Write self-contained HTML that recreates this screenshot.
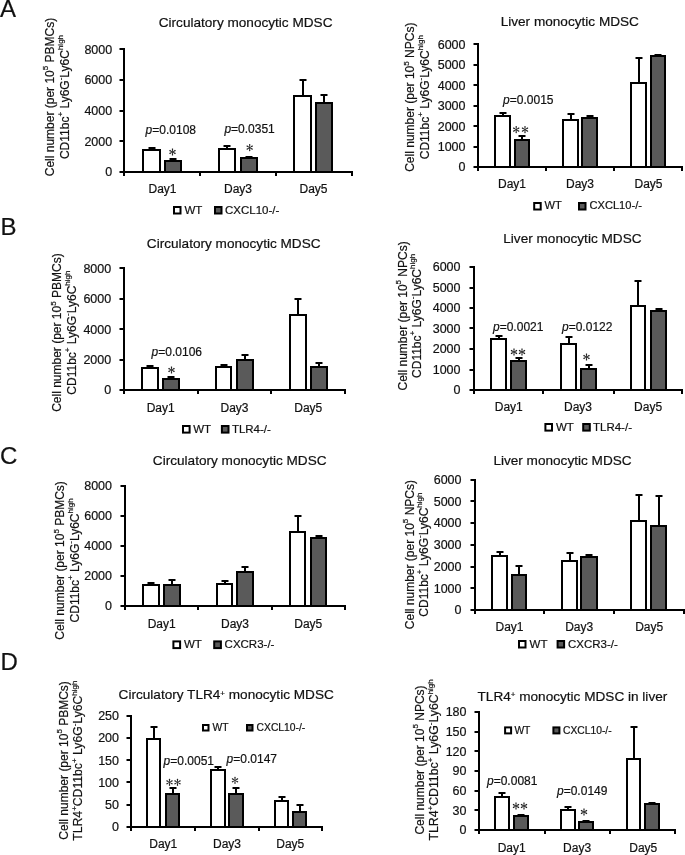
<!DOCTYPE html>
<html><head><meta charset="utf-8"><style>
html,body{margin:0;padding:0;background:#fff;width:685px;height:855px;overflow:hidden}
svg{display:block;filter:grayscale(1)}
text{font-family:"Liberation Sans", sans-serif;fill:#111;stroke:#111;stroke-width:0.2px}
</style></head><body>
<svg width="685" height="855" viewBox="0 0 685 855">
<rect width="685" height="855" fill="#fff"/>
<line x1="152" y1="148" x2="152" y2="150" stroke="#000" stroke-width="2"/>
<line x1="148.5" y1="148" x2="155.5" y2="148" stroke="#000" stroke-width="2"/>
<rect x="143" y="150" width="17" height="22" fill="#fff" stroke="#000" stroke-width="2"/>
<line x1="173" y1="159" x2="173" y2="161" stroke="#000" stroke-width="2"/>
<line x1="169.5" y1="159" x2="176.5" y2="159" stroke="#000" stroke-width="2"/>
<rect x="165" y="161" width="16" height="11" fill="#5a5a5a" stroke="#000" stroke-width="2"/>
<line x1="227" y1="146" x2="227" y2="149" stroke="#000" stroke-width="2"/>
<line x1="223.5" y1="146" x2="230.5" y2="146" stroke="#000" stroke-width="2"/>
<rect x="219" y="149" width="16" height="23" fill="#fff" stroke="#000" stroke-width="2"/>
<line x1="249" y1="157" x2="249" y2="158" stroke="#000" stroke-width="2"/>
<line x1="245.5" y1="157" x2="252.5" y2="157" stroke="#000" stroke-width="2"/>
<rect x="241" y="158" width="16" height="14" fill="#5a5a5a" stroke="#000" stroke-width="2"/>
<line x1="303" y1="80" x2="303" y2="96" stroke="#000" stroke-width="2"/>
<line x1="299.5" y1="80" x2="306.5" y2="80" stroke="#000" stroke-width="2"/>
<rect x="294" y="96" width="17" height="76" fill="#fff" stroke="#000" stroke-width="2"/>
<line x1="324" y1="95" x2="324" y2="103" stroke="#000" stroke-width="2"/>
<line x1="320.5" y1="95" x2="327.5" y2="95" stroke="#000" stroke-width="2"/>
<rect x="316" y="103" width="16" height="69" fill="#5a5a5a" stroke="#000" stroke-width="2"/>
<line x1="124" y1="48" x2="124" y2="173" stroke="#000" stroke-width="2"/>
<line x1="119.5" y1="172" x2="124" y2="172" stroke="#000" stroke-width="2"/>
<text x="112.2" y="176.4" font-size="12.5" text-anchor="end" >0</text>
<line x1="119.5" y1="141" x2="124" y2="141" stroke="#000" stroke-width="2"/>
<text x="112.2" y="145.75" font-size="12.5" text-anchor="end" >2000</text>
<line x1="119.5" y1="111" x2="124" y2="111" stroke="#000" stroke-width="2"/>
<text x="112.2" y="115.1" font-size="12.5" text-anchor="end" >4000</text>
<line x1="119.5" y1="80" x2="124" y2="80" stroke="#000" stroke-width="2"/>
<text x="112.2" y="84.45" font-size="12.5" text-anchor="end" >6000</text>
<line x1="119.5" y1="49" x2="124" y2="49" stroke="#000" stroke-width="2"/>
<text x="112.2" y="53.8" font-size="12.5" text-anchor="end" >8000</text>
<line x1="123" y1="172" x2="353" y2="172" stroke="#000" stroke-width="2"/>
<line x1="124" y1="172" x2="124" y2="176" stroke="#000" stroke-width="2"/>
<line x1="200" y1="172" x2="200" y2="176" stroke="#000" stroke-width="2"/>
<line x1="276" y1="172" x2="276" y2="176" stroke="#000" stroke-width="2"/>
<line x1="352" y1="172" x2="352" y2="176" stroke="#000" stroke-width="2"/>
<text x="162.5" y="193" font-size="12" text-anchor="middle" >Day1</text>
<text x="238" y="193" font-size="12" text-anchor="middle" >Day3</text>
<text x="313.5" y="193" font-size="12" text-anchor="middle" >Day5</text>
<text x="245.6" y="26.5" font-size="13.6" text-anchor="middle">Circulatory monocytic MDSC</text>
<text transform="translate(54,97) rotate(-90)" font-size="12" text-anchor="middle">Cell number (per 10<tspan font-size="8" dy="-5.6">5</tspan><tspan dy="5.6"> PBMCs)</tspan></text>
<text transform="translate(68.5,97) rotate(-90)" font-size="12" text-anchor="middle">CD11bc<tspan font-size="8" dy="-5.6">+</tspan><tspan dy="5.6"> Ly6G</tspan><tspan font-size="8" dy="-5.6">-</tspan><tspan dy="5.6">Ly6C</tspan><tspan font-size="8" dy="-5.6">high</tspan></text>
<text x="145.6" y="134.2" font-size="12"><tspan font-style="italic">p</tspan>=0.0108</text>
<text x="224.4" y="133" font-size="12"><tspan font-style="italic">p</tspan>=0.0351</text>
<path d="M172.7 152L173.18 149.08L173.13 148.82L172.98 148.6L172.76 148.45L172.5 148.4L172.24 148.45L172.02 148.6L171.87 148.82L171.82 149.08L172.3 152ZM172.6 152.17L175.37 151.13L175.57 150.95L175.69 150.72L175.7 150.45L175.62 150.2L175.44 150L175.2 149.88L174.94 149.87L174.69 149.95L172.4 151.83ZM172.6 151.83L170.31 149.95L170.06 149.87L169.8 149.88L169.56 150L169.38 150.2L169.3 150.45L169.31 150.72L169.43 150.95L169.63 151.13L172.4 152.17ZM172.3 152L171.82 154.92L171.87 155.18L172.02 155.4L172.24 155.55L172.5 155.6L172.76 155.55L172.98 155.4L173.13 155.18L173.18 154.92L172.7 152ZM172.4 151.83L169.63 152.87L169.43 153.05L169.31 153.28L169.3 153.55L169.38 153.8L169.56 154L169.8 154.12L170.06 154.13L170.31 154.05L172.6 152.17ZM172.4 152.17L174.69 154.05L174.94 154.13L175.2 154.12L175.44 154L175.62 153.8L175.7 153.55L175.69 153.28L175.57 153.05L175.37 152.87L172.6 151.83Z" fill="#222" fill-rule="nonzero"/>
<path d="M249.9 147.6L250.38 144.68L250.33 144.42L250.18 144.2L249.96 144.05L249.7 144L249.44 144.05L249.22 144.2L249.07 144.42L249.02 144.68L249.5 147.6ZM249.8 147.77L252.57 146.73L252.77 146.55L252.89 146.32L252.9 146.05L252.82 145.8L252.64 145.6L252.4 145.48L252.14 145.47L251.89 145.55L249.6 147.43ZM249.8 147.43L247.51 145.55L247.26 145.47L247 145.48L246.76 145.6L246.58 145.8L246.5 146.05L246.51 146.32L246.63 146.55L246.83 146.73L249.6 147.77ZM249.5 147.6L249.02 150.52L249.07 150.78L249.22 151L249.44 151.15L249.7 151.2L249.96 151.15L250.18 151L250.33 150.78L250.38 150.52L249.9 147.6ZM249.6 147.43L246.83 148.47L246.63 148.65L246.51 148.88L246.5 149.15L246.58 149.4L246.76 149.6L247 149.72L247.26 149.73L247.51 149.65L249.8 147.77ZM249.6 147.77L251.89 149.65L252.14 149.73L252.4 149.72L252.64 149.6L252.82 149.4L252.9 149.15L252.89 148.88L252.77 148.65L252.57 148.47L249.8 147.43Z" fill="#222" fill-rule="nonzero"/>
<rect x="174" y="207" width="6.5" height="6.5" fill="#fff" stroke="#000" stroke-width="2"/>
<text x="184.4" y="213.6" font-size="11.5" text-anchor="start" >WT</text>
<rect x="215" y="207" width="6.5" height="6.5" fill="#5a5a5a" stroke="#000" stroke-width="2"/>
<text x="225" y="213.6" font-size="11.5" text-anchor="start" >CXCL10-/-</text>
<line x1="503" y1="113" x2="503" y2="116" stroke="#000" stroke-width="2"/>
<line x1="499.5" y1="113" x2="506.5" y2="113" stroke="#000" stroke-width="2"/>
<rect x="495" y="116" width="15" height="51" fill="#fff" stroke="#000" stroke-width="2"/>
<line x1="522" y1="136" x2="522" y2="140" stroke="#000" stroke-width="2"/>
<line x1="518.5" y1="136" x2="525.5" y2="136" stroke="#000" stroke-width="2"/>
<rect x="515" y="140" width="14" height="27" fill="#5a5a5a" stroke="#000" stroke-width="2"/>
<line x1="571" y1="114" x2="571" y2="120" stroke="#000" stroke-width="2"/>
<line x1="567.5" y1="114" x2="574.5" y2="114" stroke="#000" stroke-width="2"/>
<rect x="563" y="120" width="15" height="47" fill="#fff" stroke="#000" stroke-width="2"/>
<line x1="590" y1="116" x2="590" y2="118" stroke="#000" stroke-width="2"/>
<line x1="586.5" y1="116" x2="593.5" y2="116" stroke="#000" stroke-width="2"/>
<rect x="582" y="118" width="15" height="49" fill="#5a5a5a" stroke="#000" stroke-width="2"/>
<line x1="639" y1="58" x2="639" y2="83" stroke="#000" stroke-width="2"/>
<line x1="635.5" y1="58" x2="642.5" y2="58" stroke="#000" stroke-width="2"/>
<rect x="631" y="83" width="15" height="84" fill="#fff" stroke="#000" stroke-width="2"/>
<line x1="658" y1="55" x2="658" y2="56" stroke="#000" stroke-width="2"/>
<line x1="654.5" y1="55" x2="661.5" y2="55" stroke="#000" stroke-width="2"/>
<rect x="651" y="56" width="14" height="111" fill="#5a5a5a" stroke="#000" stroke-width="2"/>
<line x1="478" y1="43" x2="478" y2="168" stroke="#000" stroke-width="2"/>
<line x1="473.5" y1="167" x2="478" y2="167" stroke="#000" stroke-width="2"/>
<text x="465.5" y="171.4" font-size="12.5" text-anchor="end" >0</text>
<line x1="473.5" y1="147" x2="478" y2="147" stroke="#000" stroke-width="2"/>
<text x="465.5" y="150.97" font-size="12.5" text-anchor="end" >1000</text>
<line x1="473.5" y1="126" x2="478" y2="126" stroke="#000" stroke-width="2"/>
<text x="465.5" y="130.53" font-size="12.5" text-anchor="end" >2000</text>
<line x1="473.5" y1="106" x2="478" y2="106" stroke="#000" stroke-width="2"/>
<text x="465.5" y="110.1" font-size="12.5" text-anchor="end" >3000</text>
<line x1="473.5" y1="85" x2="478" y2="85" stroke="#000" stroke-width="2"/>
<text x="465.5" y="89.67" font-size="12.5" text-anchor="end" >4000</text>
<line x1="473.5" y1="65" x2="478" y2="65" stroke="#000" stroke-width="2"/>
<text x="465.5" y="69.23" font-size="12.5" text-anchor="end" >5000</text>
<line x1="473.5" y1="44" x2="478" y2="44" stroke="#000" stroke-width="2"/>
<text x="465.5" y="48.8" font-size="12.5" text-anchor="end" >6000</text>
<line x1="477" y1="167" x2="683" y2="167" stroke="#000" stroke-width="2"/>
<line x1="478" y1="167" x2="478" y2="171" stroke="#000" stroke-width="2"/>
<line x1="546" y1="167" x2="546" y2="171" stroke="#000" stroke-width="2"/>
<line x1="614" y1="167" x2="614" y2="171" stroke="#000" stroke-width="2"/>
<line x1="682" y1="167" x2="682" y2="171" stroke="#000" stroke-width="2"/>
<text x="512" y="188" font-size="12" text-anchor="middle" >Day1</text>
<text x="580" y="188" font-size="12" text-anchor="middle" >Day3</text>
<text x="648.5" y="188" font-size="12" text-anchor="middle" >Day5</text>
<text x="569.8" y="26.2" font-size="13.6" text-anchor="middle">Liver monocytic MDSC</text>
<text transform="translate(414.2,97.2) rotate(-90)" font-size="12" text-anchor="middle">Cell number (per 10<tspan font-size="8" dy="-5.6">5</tspan><tspan dy="5.6"> NPCs)</tspan></text>
<text transform="translate(428.8,97.2) rotate(-90)" font-size="12" text-anchor="middle">CD11bc<tspan font-size="8" dy="-5.6">+</tspan><tspan dy="5.6"> Ly6G</tspan><tspan font-size="8" dy="-5.6">-</tspan><tspan dy="5.6">Ly6C</tspan><tspan font-size="8" dy="-5.6">high</tspan></text>
<text x="503.1" y="103.8" font-size="12"><tspan font-style="italic">p</tspan>=0.0015</text>
<path d="M516.4 129.6L516.88 126.68L516.83 126.42L516.68 126.2L516.46 126.05L516.2 126L515.94 126.05L515.72 126.2L515.57 126.42L515.52 126.68L516 129.6ZM516.3 129.77L519.07 128.73L519.27 128.55L519.39 128.32L519.4 128.05L519.32 127.8L519.14 127.6L518.9 127.48L518.64 127.47L518.39 127.55L516.1 129.43ZM516.3 129.43L514.01 127.55L513.76 127.47L513.5 127.48L513.26 127.6L513.08 127.8L513 128.05L513.01 128.32L513.13 128.55L513.33 128.73L516.1 129.77ZM516 129.6L515.52 132.52L515.57 132.78L515.72 133L515.94 133.15L516.2 133.2L516.46 133.15L516.68 133L516.83 132.78L516.88 132.52L516.4 129.6ZM516.1 129.43L513.33 130.47L513.13 130.65L513.01 130.88L513 131.15L513.08 131.4L513.26 131.6L513.5 131.72L513.76 131.73L514.01 131.65L516.3 129.77ZM516.1 129.77L518.39 131.65L518.64 131.73L518.9 131.72L519.14 131.6L519.32 131.4L519.4 131.15L519.39 130.88L519.27 130.65L519.07 130.47L516.3 129.43Z" fill="#222" fill-rule="nonzero"/>
<path d="M525.2 129.6L525.68 126.68L525.63 126.42L525.48 126.2L525.26 126.05L525 126L524.74 126.05L524.52 126.2L524.37 126.42L524.32 126.68L524.8 129.6ZM525.1 129.77L527.87 128.73L528.07 128.55L528.19 128.32L528.2 128.05L528.12 127.8L527.94 127.6L527.7 127.48L527.44 127.47L527.19 127.55L524.9 129.43ZM525.1 129.43L522.81 127.55L522.56 127.47L522.3 127.48L522.06 127.6L521.88 127.8L521.8 128.05L521.81 128.32L521.93 128.55L522.13 128.73L524.9 129.77ZM524.8 129.6L524.32 132.52L524.37 132.78L524.52 133L524.74 133.15L525 133.2L525.26 133.15L525.48 133L525.63 132.78L525.68 132.52L525.2 129.6ZM524.9 129.43L522.13 130.47L521.93 130.65L521.81 130.88L521.8 131.15L521.88 131.4L522.06 131.6L522.3 131.72L522.56 131.73L522.81 131.65L525.1 129.77ZM524.9 129.77L527.19 131.65L527.44 131.73L527.7 131.72L527.94 131.6L528.12 131.4L528.2 131.15L528.19 130.88L528.07 130.65L527.87 130.47L525.1 129.43Z" fill="#222" fill-rule="nonzero"/>
<rect x="534.2" y="203" width="6.5" height="6.5" fill="#fff" stroke="#000" stroke-width="2"/>
<text x="544.6" y="209.4" font-size="11.1" text-anchor="start" >WT</text>
<rect x="579" y="203" width="6.5" height="6.5" fill="#5a5a5a" stroke="#000" stroke-width="2"/>
<text x="589.5" y="209.4" font-size="11.1" text-anchor="start" >CXCL10-/-</text>
<line x1="150" y1="366" x2="150" y2="368" stroke="#000" stroke-width="2"/>
<line x1="146.5" y1="366" x2="153.5" y2="366" stroke="#000" stroke-width="2"/>
<rect x="142" y="368" width="16" height="22" fill="#fff" stroke="#000" stroke-width="2"/>
<line x1="171" y1="377" x2="171" y2="379" stroke="#000" stroke-width="2"/>
<line x1="167.5" y1="377" x2="174.5" y2="377" stroke="#000" stroke-width="2"/>
<rect x="163" y="379" width="16" height="11" fill="#5a5a5a" stroke="#000" stroke-width="2"/>
<line x1="224" y1="365" x2="224" y2="367" stroke="#000" stroke-width="2"/>
<line x1="220.5" y1="365" x2="227.5" y2="365" stroke="#000" stroke-width="2"/>
<rect x="216" y="367" width="15" height="23" fill="#fff" stroke="#000" stroke-width="2"/>
<line x1="245" y1="355" x2="245" y2="360" stroke="#000" stroke-width="2"/>
<line x1="241.5" y1="355" x2="248.5" y2="355" stroke="#000" stroke-width="2"/>
<rect x="237" y="360" width="16" height="30" fill="#5a5a5a" stroke="#000" stroke-width="2"/>
<line x1="298" y1="299" x2="298" y2="315" stroke="#000" stroke-width="2"/>
<line x1="294.5" y1="299" x2="301.5" y2="299" stroke="#000" stroke-width="2"/>
<rect x="290" y="315" width="16" height="75" fill="#fff" stroke="#000" stroke-width="2"/>
<line x1="319" y1="363" x2="319" y2="367" stroke="#000" stroke-width="2"/>
<line x1="315.5" y1="363" x2="322.5" y2="363" stroke="#000" stroke-width="2"/>
<rect x="311" y="367" width="16" height="23" fill="#5a5a5a" stroke="#000" stroke-width="2"/>
<line x1="124" y1="267" x2="124" y2="391" stroke="#000" stroke-width="2"/>
<line x1="119.5" y1="390" x2="124" y2="390" stroke="#000" stroke-width="2"/>
<text x="111.2" y="394.4" font-size="12.5" text-anchor="end" >0</text>
<line x1="119.5" y1="360" x2="124" y2="360" stroke="#000" stroke-width="2"/>
<text x="111.2" y="364" font-size="12.5" text-anchor="end" >2000</text>
<line x1="119.5" y1="329" x2="124" y2="329" stroke="#000" stroke-width="2"/>
<text x="111.2" y="333.6" font-size="12.5" text-anchor="end" >4000</text>
<line x1="119.5" y1="299" x2="124" y2="299" stroke="#000" stroke-width="2"/>
<text x="111.2" y="303.2" font-size="12.5" text-anchor="end" >6000</text>
<line x1="119.5" y1="268" x2="124" y2="268" stroke="#000" stroke-width="2"/>
<text x="111.2" y="272.8" font-size="12.5" text-anchor="end" >8000</text>
<line x1="123" y1="390" x2="346" y2="390" stroke="#000" stroke-width="2"/>
<line x1="124" y1="390" x2="124" y2="394" stroke="#000" stroke-width="2"/>
<line x1="198" y1="390" x2="198" y2="394" stroke="#000" stroke-width="2"/>
<line x1="271" y1="390" x2="271" y2="394" stroke="#000" stroke-width="2"/>
<line x1="345" y1="390" x2="345" y2="394" stroke="#000" stroke-width="2"/>
<text x="160.7" y="411.6" font-size="12" text-anchor="middle" >Day1</text>
<text x="234.5" y="411.6" font-size="12" text-anchor="middle" >Day3</text>
<text x="308.3" y="411.6" font-size="12" text-anchor="middle" >Day5</text>
<text x="233.7" y="247.7" font-size="13.6" text-anchor="middle">Circulatory monocytic MDSC</text>
<text transform="translate(61.3,332.6) rotate(-90)" font-size="12" text-anchor="middle">Cell number (per 10<tspan font-size="8" dy="-5.6">5</tspan><tspan dy="5.6"> PBMCs)</tspan></text>
<text transform="translate(76,332.6) rotate(-90)" font-size="12" text-anchor="middle">CD11bc<tspan font-size="8" dy="-5.6">+</tspan><tspan dy="5.6"> Ly6G</tspan><tspan font-size="8" dy="-5.6">-</tspan><tspan dy="5.6">Ly6C</tspan><tspan font-size="8" dy="-5.6">high</tspan></text>
<text x="151.6" y="355.6" font-size="12"><tspan font-style="italic">p</tspan>=0.0106</text>
<path d="M171.7 370L172.18 367.08L172.13 366.82L171.98 366.6L171.76 366.45L171.5 366.4L171.24 366.45L171.02 366.6L170.87 366.82L170.82 367.08L171.3 370ZM171.6 370.17L174.37 369.13L174.57 368.95L174.69 368.72L174.7 368.45L174.62 368.2L174.44 368L174.2 367.88L173.94 367.87L173.69 367.95L171.4 369.83ZM171.6 369.83L169.31 367.95L169.06 367.87L168.8 367.88L168.56 368L168.38 368.2L168.3 368.45L168.31 368.72L168.43 368.95L168.63 369.13L171.4 370.17ZM171.3 370L170.82 372.92L170.87 373.18L171.02 373.4L171.24 373.55L171.5 373.6L171.76 373.55L171.98 373.4L172.13 373.18L172.18 372.92L171.7 370ZM171.4 369.83L168.63 370.87L168.43 371.05L168.31 371.28L168.3 371.55L168.38 371.8L168.56 372L168.8 372.12L169.06 372.13L169.31 372.05L171.6 370.17ZM171.4 370.17L173.69 372.05L173.94 372.13L174.2 372.12L174.44 372L174.62 371.8L174.7 371.55L174.69 371.28L174.57 371.05L174.37 370.87L171.6 369.83Z" fill="#222" fill-rule="nonzero"/>
<rect x="183" y="426" width="6.6" height="6.6" fill="#fff" stroke="#000" stroke-width="2"/>
<text x="193.2" y="433" font-size="11.5" text-anchor="start" >WT</text>
<rect x="221.9" y="426" width="6.6" height="6.6" fill="#5a5a5a" stroke="#000" stroke-width="2"/>
<text x="231.9" y="433" font-size="11.5" text-anchor="start" >TLR4-/-</text>
<line x1="499" y1="336" x2="499" y2="339" stroke="#000" stroke-width="2"/>
<line x1="495.5" y1="336" x2="502.5" y2="336" stroke="#000" stroke-width="2"/>
<rect x="491" y="339" width="15" height="51" fill="#fff" stroke="#000" stroke-width="2"/>
<line x1="519" y1="358" x2="519" y2="361" stroke="#000" stroke-width="2"/>
<line x1="515.5" y1="358" x2="522.5" y2="358" stroke="#000" stroke-width="2"/>
<rect x="511" y="361" width="15" height="29" fill="#5a5a5a" stroke="#000" stroke-width="2"/>
<line x1="569" y1="337" x2="569" y2="344" stroke="#000" stroke-width="2"/>
<line x1="565.5" y1="337" x2="572.5" y2="337" stroke="#000" stroke-width="2"/>
<rect x="561" y="344" width="15" height="46" fill="#fff" stroke="#000" stroke-width="2"/>
<line x1="589" y1="365" x2="589" y2="369" stroke="#000" stroke-width="2"/>
<line x1="585.5" y1="365" x2="592.5" y2="365" stroke="#000" stroke-width="2"/>
<rect x="581" y="369" width="15" height="21" fill="#5a5a5a" stroke="#000" stroke-width="2"/>
<line x1="638" y1="281" x2="638" y2="306" stroke="#000" stroke-width="2"/>
<line x1="634.5" y1="281" x2="641.5" y2="281" stroke="#000" stroke-width="2"/>
<rect x="631" y="306" width="14" height="84" fill="#fff" stroke="#000" stroke-width="2"/>
<line x1="659" y1="309" x2="659" y2="311" stroke="#000" stroke-width="2"/>
<line x1="655.5" y1="309" x2="662.5" y2="309" stroke="#000" stroke-width="2"/>
<rect x="651" y="311" width="15" height="79" fill="#5a5a5a" stroke="#000" stroke-width="2"/>
<line x1="474" y1="266" x2="474" y2="391" stroke="#000" stroke-width="2"/>
<line x1="469.5" y1="390" x2="474" y2="390" stroke="#000" stroke-width="2"/>
<text x="460.5" y="394.4" font-size="12.5" text-anchor="end" >0</text>
<line x1="469.5" y1="370" x2="474" y2="370" stroke="#000" stroke-width="2"/>
<text x="460.5" y="373.9" font-size="12.5" text-anchor="end" >1000</text>
<line x1="469.5" y1="349" x2="474" y2="349" stroke="#000" stroke-width="2"/>
<text x="460.5" y="353.4" font-size="12.5" text-anchor="end" >2000</text>
<line x1="469.5" y1="328" x2="474" y2="328" stroke="#000" stroke-width="2"/>
<text x="460.5" y="332.9" font-size="12.5" text-anchor="end" >3000</text>
<line x1="469.5" y1="308" x2="474" y2="308" stroke="#000" stroke-width="2"/>
<text x="460.5" y="312.4" font-size="12.5" text-anchor="end" >4000</text>
<line x1="469.5" y1="288" x2="474" y2="288" stroke="#000" stroke-width="2"/>
<text x="460.5" y="291.9" font-size="12.5" text-anchor="end" >5000</text>
<line x1="469.5" y1="267" x2="474" y2="267" stroke="#000" stroke-width="2"/>
<text x="460.5" y="271.4" font-size="12.5" text-anchor="end" >6000</text>
<line x1="473" y1="390" x2="683" y2="390" stroke="#000" stroke-width="2"/>
<line x1="474" y1="390" x2="474" y2="394" stroke="#000" stroke-width="2"/>
<line x1="543" y1="390" x2="543" y2="394" stroke="#000" stroke-width="2"/>
<line x1="614" y1="390" x2="614" y2="394" stroke="#000" stroke-width="2"/>
<line x1="682" y1="390" x2="682" y2="394" stroke="#000" stroke-width="2"/>
<text x="508.8" y="411.3" font-size="12" text-anchor="middle" >Day1</text>
<text x="578" y="411.3" font-size="12" text-anchor="middle" >Day3</text>
<text x="648.1" y="411.3" font-size="12" text-anchor="middle" >Day5</text>
<text x="572.4" y="243.3" font-size="13.6" text-anchor="middle">Liver monocytic MDSC</text>
<text transform="translate(406.5,315.9) rotate(-90)" font-size="12" text-anchor="middle">Cell number (per 10<tspan font-size="8" dy="-5.6">5</tspan><tspan dy="5.6"> NPCs)</tspan></text>
<text transform="translate(420.8,315.9) rotate(-90)" font-size="12" text-anchor="middle">CD11bc<tspan font-size="8" dy="-5.6">+</tspan><tspan dy="5.6"> Ly6G</tspan><tspan font-size="8" dy="-5.6">-</tspan><tspan dy="5.6">Ly6C</tspan><tspan font-size="8" dy="-5.6">high</tspan></text>
<text x="493" y="330.8" font-size="12"><tspan font-style="italic">p</tspan>=0.0021</text>
<text x="562" y="331" font-size="12"><tspan font-style="italic">p</tspan>=0.0122</text>
<path d="M514.2 352L514.68 349.08L514.63 348.82L514.48 348.6L514.26 348.45L514 348.4L513.74 348.45L513.52 348.6L513.37 348.82L513.32 349.08L513.8 352ZM514.1 352.17L516.87 351.13L517.07 350.95L517.19 350.72L517.2 350.45L517.12 350.2L516.94 350L516.7 349.88L516.44 349.87L516.19 349.95L513.9 351.83ZM514.1 351.83L511.81 349.95L511.56 349.87L511.3 349.88L511.06 350L510.88 350.2L510.8 350.45L510.81 350.72L510.93 350.95L511.13 351.13L513.9 352.17ZM513.8 352L513.32 354.92L513.37 355.18L513.52 355.4L513.74 355.55L514 355.6L514.26 355.55L514.48 355.4L514.63 355.18L514.68 354.92L514.2 352ZM513.9 351.83L511.13 352.87L510.93 353.05L510.81 353.28L510.8 353.55L510.88 353.8L511.06 354L511.3 354.12L511.56 354.13L511.81 354.05L514.1 352.17ZM513.9 352.17L516.19 354.05L516.44 354.13L516.7 354.12L516.94 354L517.12 353.8L517.2 353.55L517.19 353.28L517.07 353.05L516.87 352.87L514.1 351.83Z" fill="#222" fill-rule="nonzero"/>
<path d="M522.2 352L522.68 349.08L522.63 348.82L522.48 348.6L522.26 348.45L522 348.4L521.74 348.45L521.52 348.6L521.37 348.82L521.32 349.08L521.8 352ZM522.1 352.17L524.87 351.13L525.07 350.95L525.19 350.72L525.2 350.45L525.12 350.2L524.94 350L524.7 349.88L524.44 349.87L524.19 349.95L521.9 351.83ZM522.1 351.83L519.81 349.95L519.56 349.87L519.3 349.88L519.06 350L518.88 350.2L518.8 350.45L518.81 350.72L518.93 350.95L519.13 351.13L521.9 352.17ZM521.8 352L521.32 354.92L521.37 355.18L521.52 355.4L521.74 355.55L522 355.6L522.26 355.55L522.48 355.4L522.63 355.18L522.68 354.92L522.2 352ZM521.9 351.83L519.13 352.87L518.93 353.05L518.81 353.28L518.8 353.55L518.88 353.8L519.06 354L519.3 354.12L519.56 354.13L519.81 354.05L522.1 352.17ZM521.9 352.17L524.19 354.05L524.44 354.13L524.7 354.12L524.94 354L525.12 353.8L525.2 353.55L525.19 353.28L525.07 353.05L524.87 352.87L522.1 351.83Z" fill="#222" fill-rule="nonzero"/>
<path d="M586.7 357L587.18 354.08L587.13 353.82L586.98 353.6L586.76 353.45L586.5 353.4L586.24 353.45L586.02 353.6L585.87 353.82L585.82 354.08L586.3 357ZM586.6 357.17L589.37 356.13L589.57 355.95L589.69 355.72L589.7 355.45L589.62 355.2L589.44 355L589.2 354.88L588.94 354.87L588.69 354.95L586.4 356.83ZM586.6 356.83L584.31 354.95L584.06 354.87L583.8 354.88L583.56 355L583.38 355.2L583.3 355.45L583.31 355.72L583.43 355.95L583.63 356.13L586.4 357.17ZM586.3 357L585.82 359.92L585.87 360.18L586.02 360.4L586.24 360.55L586.5 360.6L586.76 360.55L586.98 360.4L587.13 360.18L587.18 359.92L586.7 357ZM586.4 356.83L583.63 357.87L583.43 358.05L583.31 358.28L583.3 358.55L583.38 358.8L583.56 359L583.8 359.12L584.06 359.13L584.31 359.05L586.6 357.17ZM586.4 357.17L588.69 359.05L588.94 359.13L589.2 359.12L589.44 359L589.62 358.8L589.7 358.55L589.69 358.28L589.57 358.05L589.37 357.87L586.6 356.83Z" fill="#222" fill-rule="nonzero"/>
<rect x="545.4" y="424" width="6.6" height="6.6" fill="#fff" stroke="#000" stroke-width="2"/>
<text x="556" y="431" font-size="11.5" text-anchor="start" >WT</text>
<rect x="583.2" y="424" width="6.6" height="6.6" fill="#5a5a5a" stroke="#000" stroke-width="2"/>
<text x="593" y="431" font-size="11.5" text-anchor="start" >TLR4-/-</text>
<line x1="151" y1="583" x2="151" y2="585" stroke="#000" stroke-width="2"/>
<line x1="147.5" y1="583" x2="154.5" y2="583" stroke="#000" stroke-width="2"/>
<rect x="143" y="585" width="16" height="21" fill="#fff" stroke="#000" stroke-width="2"/>
<line x1="172" y1="580" x2="172" y2="585" stroke="#000" stroke-width="2"/>
<line x1="168.5" y1="580" x2="175.5" y2="580" stroke="#000" stroke-width="2"/>
<rect x="164" y="585" width="16" height="21" fill="#5a5a5a" stroke="#000" stroke-width="2"/>
<line x1="225" y1="581" x2="225" y2="584" stroke="#000" stroke-width="2"/>
<line x1="221.5" y1="581" x2="228.5" y2="581" stroke="#000" stroke-width="2"/>
<rect x="217" y="584" width="15" height="22" fill="#fff" stroke="#000" stroke-width="2"/>
<line x1="245" y1="567" x2="245" y2="572" stroke="#000" stroke-width="2"/>
<line x1="241.5" y1="567" x2="248.5" y2="567" stroke="#000" stroke-width="2"/>
<rect x="237" y="572" width="16" height="34" fill="#5a5a5a" stroke="#000" stroke-width="2"/>
<line x1="298" y1="516" x2="298" y2="532" stroke="#000" stroke-width="2"/>
<line x1="294.5" y1="516" x2="301.5" y2="516" stroke="#000" stroke-width="2"/>
<rect x="290" y="532" width="15" height="74" fill="#fff" stroke="#000" stroke-width="2"/>
<line x1="319" y1="536" x2="319" y2="538" stroke="#000" stroke-width="2"/>
<line x1="315.5" y1="536" x2="322.5" y2="536" stroke="#000" stroke-width="2"/>
<rect x="311" y="538" width="15" height="68" fill="#5a5a5a" stroke="#000" stroke-width="2"/>
<line x1="125" y1="485" x2="125" y2="607" stroke="#000" stroke-width="2"/>
<line x1="120.5" y1="606" x2="125" y2="606" stroke="#000" stroke-width="2"/>
<text x="112" y="610.4" font-size="12.5" text-anchor="end" >0</text>
<line x1="120.5" y1="576" x2="125" y2="576" stroke="#000" stroke-width="2"/>
<text x="112" y="580.3" font-size="12.5" text-anchor="end" >2000</text>
<line x1="120.5" y1="546" x2="125" y2="546" stroke="#000" stroke-width="2"/>
<text x="112" y="550.2" font-size="12.5" text-anchor="end" >4000</text>
<line x1="120.5" y1="516" x2="125" y2="516" stroke="#000" stroke-width="2"/>
<text x="112" y="520.1" font-size="12.5" text-anchor="end" >6000</text>
<line x1="120.5" y1="486" x2="125" y2="486" stroke="#000" stroke-width="2"/>
<text x="112" y="490" font-size="12.5" text-anchor="end" >8000</text>
<line x1="124" y1="606" x2="346" y2="606" stroke="#000" stroke-width="2"/>
<line x1="125" y1="606" x2="125" y2="610" stroke="#000" stroke-width="2"/>
<line x1="198" y1="606" x2="198" y2="610" stroke="#000" stroke-width="2"/>
<line x1="272" y1="606" x2="272" y2="610" stroke="#000" stroke-width="2"/>
<line x1="345" y1="606" x2="345" y2="610" stroke="#000" stroke-width="2"/>
<text x="161.7" y="628" font-size="12" text-anchor="middle" >Day1</text>
<text x="235" y="628" font-size="12" text-anchor="middle" >Day3</text>
<text x="308.3" y="628" font-size="12" text-anchor="middle" >Day5</text>
<text x="239.7" y="464.5" font-size="13.6" text-anchor="middle">Circulatory monocytic MDSC</text>
<text transform="translate(64.3,560.4) rotate(-90)" font-size="12" text-anchor="middle">Cell number (per 10<tspan font-size="8" dy="-5.6">5</tspan><tspan dy="5.6"> PBMCs)</tspan></text>
<text transform="translate(78.9,560.4) rotate(-90)" font-size="12" text-anchor="middle">CD11bc<tspan font-size="8" dy="-5.6">+</tspan><tspan dy="5.6"> Ly6G</tspan><tspan font-size="8" dy="-5.6">-</tspan><tspan dy="5.6">Ly6C</tspan><tspan font-size="8" dy="-5.6">high</tspan></text>
<rect x="173.4" y="641.4" width="6.7" height="6.7" fill="#fff" stroke="#000" stroke-width="2"/>
<text x="183.9" y="648" font-size="11.5" text-anchor="start" >WT</text>
<rect x="214.2" y="641.4" width="6.7" height="6.7" fill="#5a5a5a" stroke="#000" stroke-width="2"/>
<text x="224.6" y="648" font-size="11.5" text-anchor="start" >CXCR3-/-</text>
<line x1="500" y1="552" x2="500" y2="556" stroke="#000" stroke-width="2"/>
<line x1="496.5" y1="552" x2="503.5" y2="552" stroke="#000" stroke-width="2"/>
<rect x="492" y="556" width="15" height="54" fill="#fff" stroke="#000" stroke-width="2"/>
<line x1="519" y1="566" x2="519" y2="575" stroke="#000" stroke-width="2"/>
<line x1="515.5" y1="566" x2="522.5" y2="566" stroke="#000" stroke-width="2"/>
<rect x="512" y="575" width="14" height="35" fill="#5a5a5a" stroke="#000" stroke-width="2"/>
<line x1="570" y1="553" x2="570" y2="561" stroke="#000" stroke-width="2"/>
<line x1="566.5" y1="553" x2="573.5" y2="553" stroke="#000" stroke-width="2"/>
<rect x="562" y="561" width="15" height="49" fill="#fff" stroke="#000" stroke-width="2"/>
<line x1="589" y1="555" x2="589" y2="557" stroke="#000" stroke-width="2"/>
<line x1="585.5" y1="555" x2="592.5" y2="555" stroke="#000" stroke-width="2"/>
<rect x="581" y="557" width="16" height="53" fill="#5a5a5a" stroke="#000" stroke-width="2"/>
<line x1="639" y1="495" x2="639" y2="521" stroke="#000" stroke-width="2"/>
<line x1="635.5" y1="495" x2="642.5" y2="495" stroke="#000" stroke-width="2"/>
<rect x="631" y="521" width="15" height="89" fill="#fff" stroke="#000" stroke-width="2"/>
<line x1="659" y1="496" x2="659" y2="526" stroke="#000" stroke-width="2"/>
<line x1="655.5" y1="496" x2="662.5" y2="496" stroke="#000" stroke-width="2"/>
<rect x="651" y="526" width="15" height="84" fill="#5a5a5a" stroke="#000" stroke-width="2"/>
<line x1="475" y1="479" x2="475" y2="611" stroke="#000" stroke-width="2"/>
<line x1="470.5" y1="610" x2="475" y2="610" stroke="#000" stroke-width="2"/>
<text x="461.5" y="614.4" font-size="12.5" text-anchor="end" >0</text>
<line x1="470.5" y1="588" x2="475" y2="588" stroke="#000" stroke-width="2"/>
<text x="461.5" y="592.67" font-size="12.5" text-anchor="end" >1000</text>
<line x1="470.5" y1="567" x2="475" y2="567" stroke="#000" stroke-width="2"/>
<text x="461.5" y="570.93" font-size="12.5" text-anchor="end" >2000</text>
<line x1="470.5" y1="545" x2="475" y2="545" stroke="#000" stroke-width="2"/>
<text x="461.5" y="549.2" font-size="12.5" text-anchor="end" >3000</text>
<line x1="470.5" y1="523" x2="475" y2="523" stroke="#000" stroke-width="2"/>
<text x="461.5" y="527.47" font-size="12.5" text-anchor="end" >4000</text>
<line x1="470.5" y1="501" x2="475" y2="501" stroke="#000" stroke-width="2"/>
<text x="461.5" y="505.73" font-size="12.5" text-anchor="end" >5000</text>
<line x1="470.5" y1="480" x2="475" y2="480" stroke="#000" stroke-width="2"/>
<text x="461.5" y="484" font-size="12.5" text-anchor="end" >6000</text>
<line x1="474" y1="610" x2="685" y2="610" stroke="#000" stroke-width="2"/>
<line x1="475" y1="610" x2="475" y2="614" stroke="#000" stroke-width="2"/>
<line x1="544" y1="610" x2="544" y2="614" stroke="#000" stroke-width="2"/>
<line x1="614" y1="610" x2="614" y2="614" stroke="#000" stroke-width="2"/>
<line x1="684" y1="610" x2="684" y2="614" stroke="#000" stroke-width="2"/>
<text x="509.5" y="630.7" font-size="12" text-anchor="middle" >Day1</text>
<text x="579.2" y="630.7" font-size="12" text-anchor="middle" >Day3</text>
<text x="649.2" y="630.7" font-size="12" text-anchor="middle" >Day5</text>
<text x="562.5" y="465.1" font-size="13.6" text-anchor="middle">Liver monocytic MDSC</text>
<text transform="translate(413.5,554.6) rotate(-90)" font-size="12" text-anchor="middle">Cell number (per 10<tspan font-size="8" dy="-5.6">5</tspan><tspan dy="5.6"> NPCs)</tspan></text>
<text transform="translate(427.9,554.6) rotate(-90)" font-size="12" text-anchor="middle">CD11bc<tspan font-size="8" dy="-5.6">+</tspan><tspan dy="5.6"> Ly6G</tspan><tspan font-size="8" dy="-5.6">-</tspan><tspan dy="5.6">Ly6C</tspan><tspan font-size="8" dy="-5.6">high</tspan></text>
<rect x="519" y="641" width="6.5" height="6.5" fill="#fff" stroke="#000" stroke-width="2"/>
<text x="529.6" y="648" font-size="11.5" text-anchor="start" >WT</text>
<rect x="557.6" y="641" width="6.5" height="6.5" fill="#5a5a5a" stroke="#000" stroke-width="2"/>
<text x="568" y="648" font-size="11.5" text-anchor="start" >CXCR3-/-</text>
<line x1="154" y1="727" x2="154" y2="739" stroke="#000" stroke-width="2"/>
<line x1="150.5" y1="727" x2="157.5" y2="727" stroke="#000" stroke-width="2"/>
<rect x="147" y="739" width="13" height="88" fill="#fff" stroke="#000" stroke-width="2"/>
<line x1="173" y1="788" x2="173" y2="794" stroke="#000" stroke-width="2"/>
<line x1="169.5" y1="788" x2="176.5" y2="788" stroke="#000" stroke-width="2"/>
<rect x="166" y="794" width="13" height="33" fill="#5a5a5a" stroke="#000" stroke-width="2"/>
<line x1="218" y1="767" x2="218" y2="770" stroke="#000" stroke-width="2"/>
<line x1="214.5" y1="767" x2="221.5" y2="767" stroke="#000" stroke-width="2"/>
<rect x="211" y="770" width="14" height="57" fill="#fff" stroke="#000" stroke-width="2"/>
<line x1="236" y1="788" x2="236" y2="794" stroke="#000" stroke-width="2"/>
<line x1="232.5" y1="788" x2="239.5" y2="788" stroke="#000" stroke-width="2"/>
<rect x="229" y="794" width="14" height="33" fill="#5a5a5a" stroke="#000" stroke-width="2"/>
<line x1="282" y1="797" x2="282" y2="801" stroke="#000" stroke-width="2"/>
<line x1="278.5" y1="797" x2="285.5" y2="797" stroke="#000" stroke-width="2"/>
<rect x="275" y="801" width="13" height="26" fill="#fff" stroke="#000" stroke-width="2"/>
<line x1="300" y1="805" x2="300" y2="812" stroke="#000" stroke-width="2"/>
<line x1="296.5" y1="805" x2="303.5" y2="805" stroke="#000" stroke-width="2"/>
<rect x="293" y="812" width="13" height="15" fill="#5a5a5a" stroke="#000" stroke-width="2"/>
<line x1="131" y1="715" x2="131" y2="828" stroke="#000" stroke-width="2"/>
<line x1="126.5" y1="827" x2="131" y2="827" stroke="#000" stroke-width="2"/>
<text x="119" y="831.4" font-size="12.5" text-anchor="end" >0</text>
<line x1="126.5" y1="805" x2="131" y2="805" stroke="#000" stroke-width="2"/>
<text x="119" y="809.12" font-size="12.5" text-anchor="end" >50</text>
<line x1="126.5" y1="782" x2="131" y2="782" stroke="#000" stroke-width="2"/>
<text x="119" y="786.84" font-size="12.5" text-anchor="end" >100</text>
<line x1="126.5" y1="760" x2="131" y2="760" stroke="#000" stroke-width="2"/>
<text x="119" y="764.56" font-size="12.5" text-anchor="end" >150</text>
<line x1="126.5" y1="738" x2="131" y2="738" stroke="#000" stroke-width="2"/>
<text x="119" y="742.28" font-size="12.5" text-anchor="end" >200</text>
<line x1="126.5" y1="716" x2="131" y2="716" stroke="#000" stroke-width="2"/>
<text x="119" y="720" font-size="12.5" text-anchor="end" >250</text>
<line x1="130" y1="827" x2="323" y2="827" stroke="#000" stroke-width="2"/>
<line x1="131" y1="827" x2="131" y2="831" stroke="#000" stroke-width="2"/>
<line x1="195" y1="827" x2="195" y2="831" stroke="#000" stroke-width="2"/>
<line x1="259" y1="827" x2="259" y2="831" stroke="#000" stroke-width="2"/>
<line x1="322" y1="827" x2="322" y2="831" stroke="#000" stroke-width="2"/>
<text x="163.3" y="848.3" font-size="12" text-anchor="middle" >Day1</text>
<text x="227" y="848.3" font-size="12" text-anchor="middle" >Day3</text>
<text x="290.3" y="848.3" font-size="12" text-anchor="middle" >Day5</text>
<text x="226.2" y="699.3" font-size="13.6" text-anchor="middle">Circulatory TLR4<tspan font-size="8" dy="-3.6">+</tspan><tspan dy="3.6"> monocytic MDSC</tspan></text>
<text transform="translate(68,760.4) rotate(-90)" font-size="12" text-anchor="middle">Cell number (per 10<tspan font-size="8" dy="-5.6">5</tspan><tspan dy="5.6"> PBMCs)</tspan></text>
<text transform="translate(82.3,760.6) rotate(-90)" font-size="12.2" text-anchor="middle">TLR4<tspan font-size="8" dy="-5.6">+</tspan><tspan dy="5.6">CD11bc</tspan><tspan font-size="8" dy="-5.6">+</tspan><tspan dy="5.6"> Ly6G</tspan><tspan font-size="8" dy="-5.6">-</tspan><tspan dy="5.6">Ly6C</tspan><tspan font-size="8" dy="-5.6">high</tspan></text>
<text x="163.6" y="765" font-size="12"><tspan font-style="italic">p</tspan>=0.0051</text>
<text x="226.6" y="762.6" font-size="12"><tspan font-style="italic">p</tspan>=0.0147</text>
<path d="M169.7 782.3L170.18 779.38L170.13 779.12L169.98 778.9L169.76 778.75L169.5 778.7L169.24 778.75L169.02 778.9L168.87 779.12L168.82 779.38L169.3 782.3ZM169.6 782.47L172.37 781.43L172.57 781.25L172.69 781.02L172.7 780.75L172.62 780.5L172.44 780.3L172.2 780.18L171.94 780.17L171.69 780.25L169.4 782.13ZM169.6 782.13L167.31 780.25L167.06 780.17L166.8 780.18L166.56 780.3L166.38 780.5L166.3 780.75L166.31 781.02L166.43 781.25L166.63 781.43L169.4 782.47ZM169.3 782.3L168.82 785.22L168.87 785.48L169.02 785.7L169.24 785.85L169.5 785.9L169.76 785.85L169.98 785.7L170.13 785.48L170.18 785.22L169.7 782.3ZM169.4 782.13L166.63 783.17L166.43 783.35L166.31 783.58L166.3 783.85L166.38 784.1L166.56 784.3L166.8 784.42L167.06 784.43L167.31 784.35L169.6 782.47ZM169.4 782.47L171.69 784.35L171.94 784.43L172.2 784.42L172.44 784.3L172.62 784.1L172.7 783.85L172.69 783.58L172.57 783.35L172.37 783.17L169.6 782.13Z" fill="#222" fill-rule="nonzero"/>
<path d="M177.7 782.3L178.18 779.38L178.13 779.12L177.98 778.9L177.76 778.75L177.5 778.7L177.24 778.75L177.02 778.9L176.87 779.12L176.82 779.38L177.3 782.3ZM177.6 782.47L180.37 781.43L180.57 781.25L180.69 781.02L180.7 780.75L180.62 780.5L180.44 780.3L180.2 780.18L179.94 780.17L179.69 780.25L177.4 782.13ZM177.6 782.13L175.31 780.25L175.06 780.17L174.8 780.18L174.56 780.3L174.38 780.5L174.3 780.75L174.31 781.02L174.43 781.25L174.63 781.43L177.4 782.47ZM177.3 782.3L176.82 785.22L176.87 785.48L177.02 785.7L177.24 785.85L177.5 785.9L177.76 785.85L177.98 785.7L178.13 785.48L178.18 785.22L177.7 782.3ZM177.4 782.13L174.63 783.17L174.43 783.35L174.31 783.58L174.3 783.85L174.38 784.1L174.56 784.3L174.8 784.42L175.06 784.43L175.31 784.35L177.6 782.47ZM177.4 782.47L179.69 784.35L179.94 784.43L180.2 784.42L180.44 784.3L180.62 784.1L180.7 783.85L180.69 783.58L180.57 783.35L180.37 783.17L177.6 782.13Z" fill="#222" fill-rule="nonzero"/>
<path d="M235.2 780.3L235.68 777.38L235.63 777.12L235.48 776.9L235.26 776.75L235 776.7L234.74 776.75L234.52 776.9L234.37 777.12L234.32 777.38L234.8 780.3ZM235.1 780.47L237.87 779.43L238.07 779.25L238.19 779.02L238.2 778.75L238.12 778.5L237.94 778.3L237.7 778.18L237.44 778.17L237.19 778.25L234.9 780.13ZM235.1 780.13L232.81 778.25L232.56 778.17L232.3 778.18L232.06 778.3L231.88 778.5L231.8 778.75L231.81 779.02L231.93 779.25L232.13 779.43L234.9 780.47ZM234.8 780.3L234.32 783.22L234.37 783.48L234.52 783.7L234.74 783.85L235 783.9L235.26 783.85L235.48 783.7L235.63 783.48L235.68 783.22L235.2 780.3ZM234.9 780.13L232.13 781.17L231.93 781.35L231.81 781.58L231.8 781.85L231.88 782.1L232.06 782.3L232.3 782.42L232.56 782.43L232.81 782.35L235.1 780.47ZM234.9 780.47L237.19 782.35L237.44 782.43L237.7 782.42L237.94 782.3L238.12 782.1L238.2 781.85L238.19 781.58L238.07 781.35L237.87 781.17L235.1 780.13Z" fill="#222" fill-rule="nonzero"/>
<rect x="203" y="725" width="5.5" height="5.5" fill="#fff" stroke="#000" stroke-width="2"/>
<text x="212.6" y="731" font-size="10.3" text-anchor="start" >WT</text>
<rect x="247" y="725" width="5.5" height="5.5" fill="#5a5a5a" stroke="#000" stroke-width="2"/>
<text x="256.6" y="731" font-size="10.3" text-anchor="start" >CXCL10-/-</text>
<line x1="502" y1="793" x2="502" y2="797" stroke="#000" stroke-width="2"/>
<line x1="498.5" y1="793" x2="505.5" y2="793" stroke="#000" stroke-width="2"/>
<rect x="495" y="797" width="14" height="33" fill="#fff" stroke="#000" stroke-width="2"/>
<line x1="521" y1="815" x2="521" y2="816" stroke="#000" stroke-width="2"/>
<line x1="517.5" y1="815" x2="524.5" y2="815" stroke="#000" stroke-width="2"/>
<rect x="514" y="816" width="14" height="14" fill="#5a5a5a" stroke="#000" stroke-width="2"/>
<line x1="568" y1="807" x2="568" y2="810" stroke="#000" stroke-width="2"/>
<line x1="564.5" y1="807" x2="571.5" y2="807" stroke="#000" stroke-width="2"/>
<rect x="561" y="810" width="14" height="20" fill="#fff" stroke="#000" stroke-width="2"/>
<line x1="586" y1="821" x2="586" y2="822" stroke="#000" stroke-width="2"/>
<line x1="582.5" y1="821" x2="589.5" y2="821" stroke="#000" stroke-width="2"/>
<rect x="579" y="822" width="14" height="8" fill="#5a5a5a" stroke="#000" stroke-width="2"/>
<line x1="634" y1="727" x2="634" y2="759" stroke="#000" stroke-width="2"/>
<line x1="630.5" y1="727" x2="637.5" y2="727" stroke="#000" stroke-width="2"/>
<rect x="627" y="759" width="13" height="71" fill="#fff" stroke="#000" stroke-width="2"/>
<line x1="652" y1="803" x2="652" y2="804" stroke="#000" stroke-width="2"/>
<line x1="648.5" y1="803" x2="655.5" y2="803" stroke="#000" stroke-width="2"/>
<rect x="645" y="804" width="14" height="26" fill="#5a5a5a" stroke="#000" stroke-width="2"/>
<line x1="479" y1="711" x2="479" y2="831" stroke="#000" stroke-width="2"/>
<line x1="474.5" y1="830" x2="479" y2="830" stroke="#000" stroke-width="2"/>
<text x="466.5" y="834.4" font-size="12.5" text-anchor="end" >0</text>
<line x1="474.5" y1="810" x2="479" y2="810" stroke="#000" stroke-width="2"/>
<text x="466.5" y="814.73" font-size="12.5" text-anchor="end" >30</text>
<line x1="474.5" y1="791" x2="479" y2="791" stroke="#000" stroke-width="2"/>
<text x="466.5" y="795.07" font-size="12.5" text-anchor="end" >60</text>
<line x1="474.5" y1="771" x2="479" y2="771" stroke="#000" stroke-width="2"/>
<text x="466.5" y="775.4" font-size="12.5" text-anchor="end" >90</text>
<line x1="474.5" y1="751" x2="479" y2="751" stroke="#000" stroke-width="2"/>
<text x="466.5" y="755.73" font-size="12.5" text-anchor="end" >120</text>
<line x1="474.5" y1="732" x2="479" y2="732" stroke="#000" stroke-width="2"/>
<text x="466.5" y="736.07" font-size="12.5" text-anchor="end" >150</text>
<line x1="474.5" y1="712" x2="479" y2="712" stroke="#000" stroke-width="2"/>
<text x="466.5" y="716.4" font-size="12.5" text-anchor="end" >180</text>
<line x1="478" y1="830" x2="676" y2="830" stroke="#000" stroke-width="2"/>
<line x1="479" y1="830" x2="479" y2="834" stroke="#000" stroke-width="2"/>
<line x1="545" y1="830" x2="545" y2="834" stroke="#000" stroke-width="2"/>
<line x1="610" y1="830" x2="610" y2="834" stroke="#000" stroke-width="2"/>
<line x1="675" y1="830" x2="675" y2="834" stroke="#000" stroke-width="2"/>
<text x="511.7" y="852" font-size="12" text-anchor="middle" >Day1</text>
<text x="577.1" y="852" font-size="12" text-anchor="middle" >Day3</text>
<text x="643.3" y="852" font-size="12" text-anchor="middle" >Day5</text>
<text x="572.4" y="701" font-size="13.6" text-anchor="middle">TLR4<tspan font-size="8" dy="-3.6">+</tspan><tspan dy="3.6"> monocytic MDSC in liver</tspan></text>
<text transform="translate(423.6,760) rotate(-90)" font-size="12" text-anchor="middle">Cell number (per 10<tspan font-size="8" dy="-5.6">5</tspan><tspan dy="5.6"> NPCs)</tspan></text>
<text transform="translate(438.4,759.9) rotate(-90)" font-size="12.3" text-anchor="middle">TLR4<tspan font-size="8" dy="-5.6">+</tspan><tspan dy="5.6">CD11bc</tspan><tspan font-size="8" dy="-5.6">+</tspan><tspan dy="5.6"> Ly6G</tspan><tspan font-size="8" dy="-5.6">-</tspan><tspan dy="5.6">Ly6C</tspan><tspan font-size="8" dy="-5.6">high</tspan></text>
<text x="487" y="785" font-size="12"><tspan font-style="italic">p</tspan>=0.0081</text>
<text x="557" y="795" font-size="12"><tspan font-style="italic">p</tspan>=0.0149</text>
<path d="M516.2 806L516.68 803.08L516.63 802.82L516.48 802.6L516.26 802.45L516 802.4L515.74 802.45L515.52 802.6L515.37 802.82L515.32 803.08L515.8 806ZM516.1 806.17L518.87 805.13L519.07 804.95L519.19 804.72L519.2 804.45L519.12 804.2L518.94 804L518.7 803.88L518.44 803.87L518.19 803.95L515.9 805.83ZM516.1 805.83L513.81 803.95L513.56 803.87L513.3 803.88L513.06 804L512.88 804.2L512.8 804.45L512.81 804.72L512.93 804.95L513.13 805.13L515.9 806.17ZM515.8 806L515.32 808.92L515.37 809.18L515.52 809.4L515.74 809.55L516 809.6L516.26 809.55L516.48 809.4L516.63 809.18L516.68 808.92L516.2 806ZM515.9 805.83L513.13 806.87L512.93 807.05L512.81 807.28L512.8 807.55L512.88 807.8L513.06 808L513.3 808.12L513.56 808.13L513.81 808.05L516.1 806.17ZM515.9 806.17L518.19 808.05L518.44 808.13L518.7 808.12L518.94 808L519.12 807.8L519.2 807.55L519.19 807.28L519.07 807.05L518.87 806.87L516.1 805.83Z" fill="#222" fill-rule="nonzero"/>
<path d="M524.2 806L524.68 803.08L524.63 802.82L524.48 802.6L524.26 802.45L524 802.4L523.74 802.45L523.52 802.6L523.37 802.82L523.32 803.08L523.8 806ZM524.1 806.17L526.87 805.13L527.07 804.95L527.19 804.72L527.2 804.45L527.12 804.2L526.94 804L526.7 803.88L526.44 803.87L526.19 803.95L523.9 805.83ZM524.1 805.83L521.81 803.95L521.56 803.87L521.3 803.88L521.06 804L520.88 804.2L520.8 804.45L520.81 804.72L520.93 804.95L521.13 805.13L523.9 806.17ZM523.8 806L523.32 808.92L523.37 809.18L523.52 809.4L523.74 809.55L524 809.6L524.26 809.55L524.48 809.4L524.63 809.18L524.68 808.92L524.2 806ZM523.9 805.83L521.13 806.87L520.93 807.05L520.81 807.28L520.8 807.55L520.88 807.8L521.06 808L521.3 808.12L521.56 808.13L521.81 808.05L524.1 806.17ZM523.9 806.17L526.19 808.05L526.44 808.13L526.7 808.12L526.94 808L527.12 807.8L527.2 807.55L527.19 807.28L527.07 807.05L526.87 806.87L524.1 805.83Z" fill="#222" fill-rule="nonzero"/>
<path d="M584.2 812L584.68 809.08L584.63 808.82L584.48 808.6L584.26 808.45L584 808.4L583.74 808.45L583.52 808.6L583.37 808.82L583.32 809.08L583.8 812ZM584.1 812.17L586.87 811.13L587.07 810.95L587.19 810.72L587.2 810.45L587.12 810.2L586.94 810L586.7 809.88L586.44 809.87L586.19 809.95L583.9 811.83ZM584.1 811.83L581.81 809.95L581.56 809.87L581.3 809.88L581.06 810L580.88 810.2L580.8 810.45L580.81 810.72L580.93 810.95L581.13 811.13L583.9 812.17ZM583.8 812L583.32 814.92L583.37 815.18L583.52 815.4L583.74 815.55L584 815.6L584.26 815.55L584.48 815.4L584.63 815.18L584.68 814.92L584.2 812ZM583.9 811.83L581.13 812.87L580.93 813.05L580.81 813.28L580.8 813.55L580.88 813.8L581.06 814L581.3 814.12L581.56 814.13L581.81 814.05L584.1 812.17ZM583.9 812.17L586.19 814.05L586.44 814.13L586.7 814.12L586.94 814L587.12 813.8L587.2 813.55L587.19 813.28L587.07 813.05L586.87 812.87L584.1 811.83Z" fill="#222" fill-rule="nonzero"/>
<rect x="505.1" y="727.4" width="6" height="6" fill="#fff" stroke="#000" stroke-width="2"/>
<text x="514.4" y="734" font-size="10.3" text-anchor="start" >WT</text>
<rect x="553.4" y="727.4" width="6" height="6" fill="#5a5a5a" stroke="#000" stroke-width="2"/>
<text x="563" y="734" font-size="10.3" text-anchor="start" >CXCL10-/-</text>
<text x="0" y="17.2" font-size="24" text-anchor="start" >A</text>
<text x="0.4" y="234.8" font-size="24" text-anchor="start" >B</text>
<text x="0" y="463.5" font-size="24" text-anchor="start" >C</text>
<text x="0.4" y="670" font-size="24" text-anchor="start" >D</text>
</svg>
</body></html>
